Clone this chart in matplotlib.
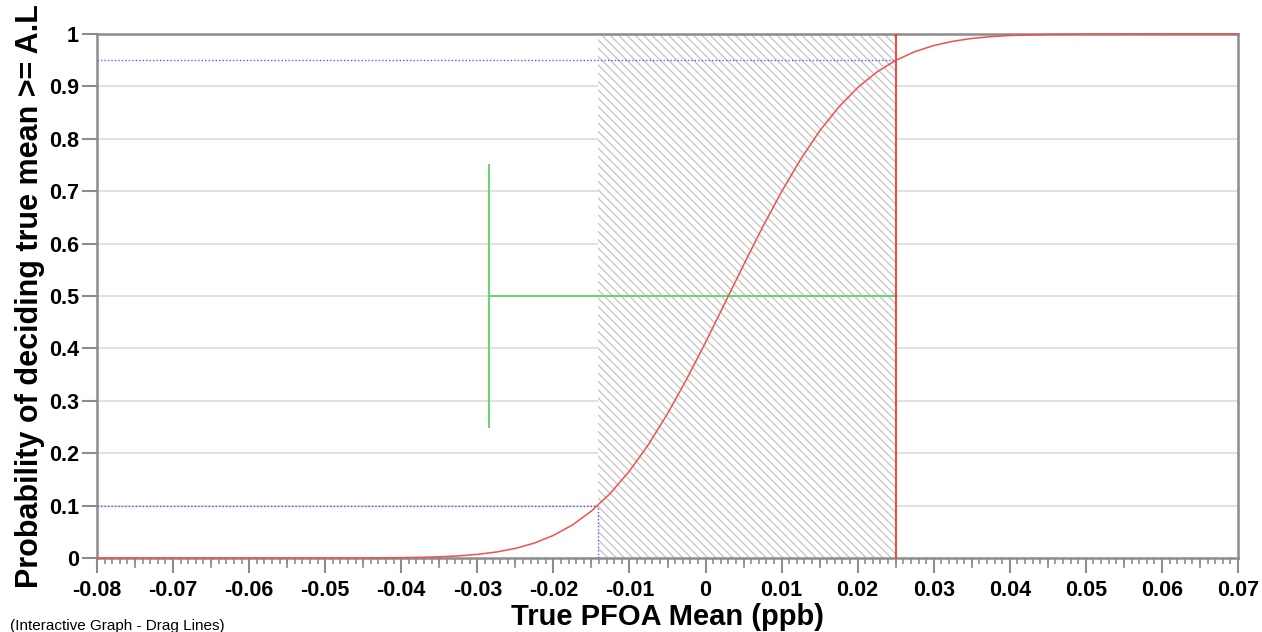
import matplotlib
matplotlib.use("Agg")
import matplotlib.pyplot as plt
import numpy as np

# ---- data ----
curve_x = [-0.08, -0.06, -0.045, -0.04, -0.0375, -0.035, -0.0325, -0.03, -0.0275, -0.025,
           -0.0225, -0.02, -0.0175, -0.015, -0.0125, -0.01, -0.0075, -0.005, -0.0025,
           0.0, 0.0025, 0.005, 0.0075, 0.01, 0.0125, 0.015, 0.0175, 0.02, 0.0225,
           0.025, 0.0275, 0.03, 0.0325, 0.035, 0.0375, 0.04, 0.045, 0.05, 0.06, 0.07]
curve_y = [0.0, 0.0, 0.0001, 0.0007, 0.0013, 0.0023, 0.0040, 0.0069, 0.0114, 0.0183,
           0.0285, 0.0431, 0.0630, 0.0896, 0.1237, 0.1660, 0.2166, 0.2753, 0.3408,
           0.4114, 0.4852, 0.5592, 0.6315, 0.6992, 0.7608, 0.8149, 0.8604, 0.8978, 0.9272,
           0.9497, 0.9662, 0.9780, 0.9861, 0.9915, 0.9950, 0.9971, 0.9991, 0.9998, 1.0, 1.0]

x_low = -0.0142      # x where probability = 0.10
x_high = 0.025       # x where probability = 0.95 (red drag line)
p_low = 0.10
p_high = 0.95
green_x = -0.0285    # green vertical drag line
green_ylo, green_yhi = 0.25, 0.75
green_y = 0.5

x_ticks = [-0.08, -0.07, -0.06, -0.05, -0.04, -0.03, -0.02, -0.01, 0, 0.01, 0.02, 0.03, 0.04, 0.05, 0.06, 0.07]
x_labels = ["-0.08", "-0.07", "-0.06", "-0.05", "-0.04", "-0.03", "-0.02", "-0.01", "0",
            "0.01", "0.02", "0.03", "0.04", "0.05", "0.06", "0.07"]
y_ticks = [0, 0.1, 0.2, 0.3, 0.4, 0.5, 0.6, 0.7, 0.8, 0.9, 1]
y_labels = ["0", "0.1", "0.2", "0.3", "0.4", "0.5", "0.6", "0.7", "0.8", "0.9", "1"]

plt.rcParams['font.family'] = ['Liberation Sans', 'DejaVu Sans']
plt.rcParams['hatch.linewidth'] = 0.9
plt.rcParams['hatch.color'] = '#c4c4c4'

fig = plt.figure(figsize=(12.62, 6.32), dpi=100)
ax = fig.add_axes([97/1262, 1-558/632, (1238-97)/1262, (558-34)/632])
ax.set_xlim(-0.08, 0.07)
ax.set_ylim(0, 1)

# grid
for yv in y_ticks[1:-1]:
    ax.axhline(yv, color='#dcdcdc', lw=1.2, zorder=0)

# shaded region
ax.axvspan(x_low, x_high, facecolor='white', edgecolor='#c4c4c4', hatch='\\\\\\\\', lw=0, zorder=1)

# blue dotted guide lines
ax.plot([-0.08, x_high], [p_high, p_high], color='#5a5ae6', lw=1, ls=(0, (1, 1.5)), zorder=3)
ax.plot([-0.08, x_low], [p_low, p_low], color='#5a5ae6', lw=1, ls=(0, (1, 1.5)), zorder=3)
ax.plot([x_low, x_low], [0, p_low], color='#5a5ae6', lw=1, ls=(0, (1, 1.5)), zorder=3)

# green lines
ax.plot([green_x, green_x], [green_ylo, green_yhi], color='#6fd46f', lw=1.5, zorder=3)
ax.plot([green_x, x_high], [green_y, green_y], color='#6fd46f', lw=1.5, zorder=3)

# red vertical line
ax.plot([x_high, x_high], [0, 1], color='#ff2020', lw=1.2, zorder=4)

# curve
ax.plot(curve_x, curve_y, color='#f05050', lw=1.1, zorder=5, clip_on=False)

# spines
for s in ax.spines.values():
    s.set_color('#8c8c8c')
    s.set_linewidth(1.8)

ax.set_xticks(x_ticks)
ax.set_xticklabels(x_labels, fontsize=15.5, fontweight='bold')
ax.set_yticks(y_ticks)
ax.set_yticklabels(y_labels, fontsize=15.5, fontweight='bold')
ax.set_xticks(np.round(np.arange(-0.08, 0.0701, 0.001), 4), minor=True)
ax.tick_params(axis='x', which='major', length=11, width=1.5, color='#8c8c8c', pad=5)
ax.tick_params(axis='x', which='minor', length=4, width=1.2, color='#8c8c8c')
ax.tick_params(axis='y', which='major', length=11, width=1.5, color='#8c8c8c', pad=2)

sec = ax.secondary_xaxis('bottom')
sec.set_xticks(np.round(np.arange(-0.075, 0.07, 0.01), 4))
sec.set_xticklabels([])
sec.tick_params(length=7, width=1.2, color='#8c8c8c')
sec.spines['bottom'].set_visible(False)

ax.set_xlabel("True PFOA Mean (ppb)", fontsize=21, fontweight='bold', labelpad=1)
ax.set_ylabel("Probability of deciding true mean >= A.L", fontsize=22, fontweight='bold', labelpad=3)

fig.text(10/1262, 1-626/632, "(Interactive Graph - Drag Lines)", fontsize=11, va='center', ha='left')

fig.savefig("out.png", dpi=100)
